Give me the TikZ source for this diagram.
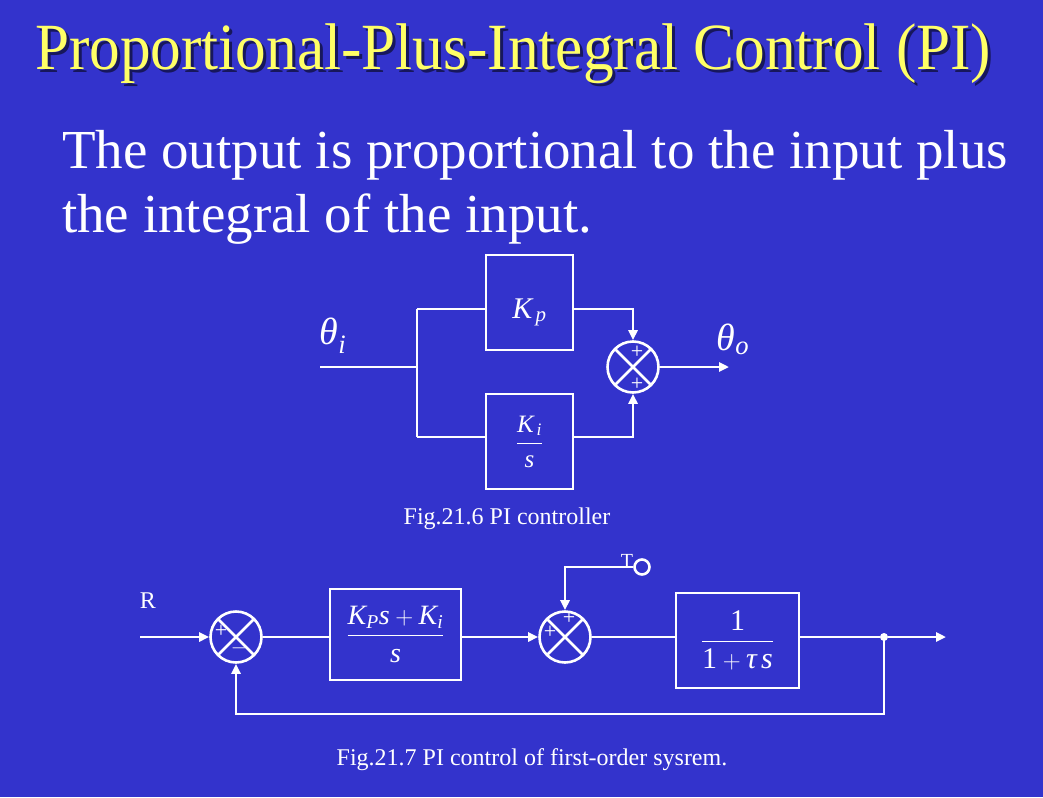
\documentclass[tikz,border=0pt]{standalone}
\usepackage{fontspec}
\setmainfont{Liberation Serif}
\usepackage{amsmath}
\usetikzlibrary{positioning,arrows.meta,calc}
\definecolor{slideBlue}{HTML}{3333CC}
\definecolor{titleYellow}{HTML}{FFFF66}
\definecolor{shadowBlue}{HTML}{17175C}
\newcommand{\fs}[1]{\fontsize{#1}{#1}\selectfont}
\newcommand{\vi}[1]{\text{\itshape #1}}
\newcommand{\vr}[1]{\text{\upshape #1}}
\tikzset{
  titletxt/.style={font=\fs{66}, text=titleYellow, inner sep=0pt, anchor=base west},
  bodytxt/.style={font=\fs{55}, text=white, inner sep=0pt, anchor=base west},
  captxt/.style={font=\fs{24}, text=white, inner sep=0pt},
  blk/.style={draw=white, line width=2.6pt, text=white, inner sep=0pt},
  sumjct/.style={circle, draw=white, line width=2.6pt, minimum size=51pt, inner sep=0pt,
    path picture={\draw[white, line width=2.6pt]
      (path picture bounding box.north west) -- (path picture bounding box.south east)
      (path picture bounding box.north east) -- (path picture bounding box.south west);}},
  sgn/.style={text=white, font=\fs{22}, inner sep=0pt},
  sig/.style={white, line width=2.6pt},
  sigarr/.style={sig, -{Triangle[length=10pt, width=9pt]}},
}
\begin{document}
\begin{tikzpicture}[x=1pt, y=-1pt]
\fill[slideBlue] (0,0) rectangle (1043,797);
\useasboundingbox (0,0) rectangle (1043,797);
% title and text
\node[titletxt, text=shadowBlue] (titleshadow) at (38,73) {\scalebox{0.928}[1]{Proportional-Plus-Integral Control (PI)}};
\node[titletxt] (title) at (35,70) {\scalebox{0.928}[1]{Proportional-Plus-Integral Control (PI)}};
\node[bodytxt] (line1) at (62,168) {The output is proportional to the input plus};
\node[bodytxt] (line2) at (62,232) {the integral of the input.};
% Fig 21.6
\node[blk, minimum width=87pt, minimum height=95pt, font=\fs{30}] (kp) at (529.5,302.5) {\raisebox{-8pt}[21pt][6pt]{$\vi{K}_{\,\vi{p}}$}};
\node[blk, minimum width=87pt, minimum height=95pt, font=\fs{25}] (ki) at (529.5,441.5)
  {$\dfrac{\vi{K}_{\,\vi{i}}\rule[-8pt]{0pt}{8pt}}{\rule{0pt}{20pt}\vi{s}}$};
\node[sumjct] (sum1) at (633,367) {};
\coordinate (in1) at (320,367);
\coordinate (split) at (417,367);
\coordinate (tl) at (417,309);
\coordinate (bl) at (417,437);
\coordinate (out1) at (729,367);
\draw[sig] (in1) -- (split);
\draw[sig] (tl) -- (bl);
\draw[sig] (tl) -- (kp.west |- tl);
\draw[sig] (bl) -- (ki.west |- bl);
\draw[sigarr] (kp.east |- tl) -| (sum1.north);
\draw[sigarr] (ki.east |- bl) -| (sum1.south);
\draw[sigarr] (sum1.east) -- (out1);
\node[sgn] at (637,352) {+};
\node[sgn] at (637,384) {+};
\node[text=white, font=\fs{38}] (thi) at (333,336) {$\vi{θ}_{\vi{i}}$};
\node[text=white, font=\fs{38}] (tho) at (733,339) {$\vi{θ}_{\vi{o}}$};
\node[captxt] (cap1) at (507,519) {Fig.21.6 PI controller};
% Fig 21.7
\node[captxt] (rlbl) at (148,601) {R};
\node[sumjct] (sumA) at (236,637) {};
\node[blk, minimum width=131pt, minimum height=91pt, font=\fs{28}] (pi) at (395.5,634.5)
  {$\dfrac{\vi{K}_{\vi{P}}\vi{s}+\vi{K}_{\vi{i}}\rule[-6pt]{0pt}{6pt}}{\rule{0pt}{24pt}\vi{s}}$};
\node[sumjct] (sumB) at (565,637) {};
\node[blk, minimum width=123pt, minimum height=95pt, font=\fs{30}] (plant) at (737.5,640.5)
  {$\dfrac{\vr{1}\rule[-6pt]{0pt}{6pt}}{\rule{0pt}{24pt}\vr{1}+\vi{τ}\,\vi{s}}$};
\node[circle, fill=white, minimum size=8pt, inner sep=0pt] (tap) at (884,637) {};
\node[circle, draw=white, line width=2.6pt, minimum size=15pt, inner sep=0pt] (tq) at (642,567) {};
\node[captxt, font=\fs{20}] (tlbl) at (627,561) {T};
\coordinate (rin) at (140,637);
\coordinate (yout) at (946,637);
\coordinate (fbl) at (236,714);
\coordinate (tcorner) at (565,567);
\draw[sigarr] (rin) -- (sumA.west);
\draw[sig] (sumA.east) -- (pi.west |- sumA);
\draw[sigarr] (pi.east |- sumA) -- (sumB.west);
\draw[sig] (sumB.east) -- (plant.west |- sumB);
\draw[sig] (plant.east |- sumB) -- (tap);
\draw[sigarr] (tap) -- (yout);
\draw[sigarr] (tap.center) |- (fbl) -- (sumA.south);
\draw[sigarr] (tq.west) -- (tcorner) -- (sumB.north);
\node[sgn] at (221,631) {+};
\node[sgn] at (239,648) {$-$};
\node[sgn] at (569,618) {+};
\node[sgn] at (550,632) {+};
\node[captxt] (cap2) at (532,760) {Fig.21.7 PI control of first-order sysrem.};
\end{tikzpicture}
\end{document}
